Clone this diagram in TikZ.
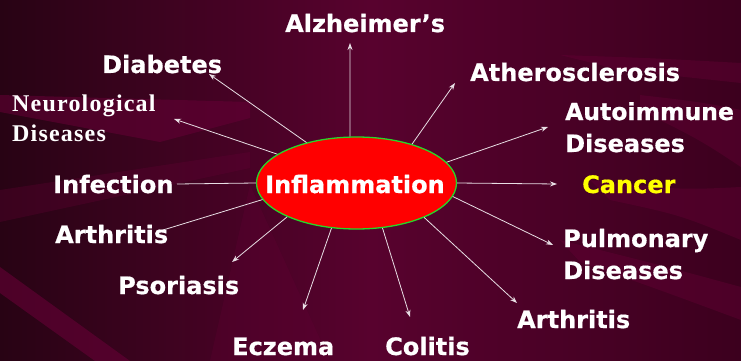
\documentclass[tikz,border=0pt]{standalone}
\usepackage{fontspec}
\setmainfont{DejaVu Sans}[BoldFeatures={FakeBold=0.6}]
\newfontfamily\neurofont[LetterSpace=5]{Liberation Serif}
\usetikzlibrary{shapes.geometric,arrows.meta}
\definecolor{bgL}{RGB}{40,3,20}
\definecolor{bgM}{RGB}{88,2,46}
\definecolor{bgR}{RGB}{60,0,30}
\definecolor{band}{RGB}{102,0,54}
\definecolor{linec}{RGB}{232,222,228}
\definecolor{ellgreen}{RGB}{40,215,40}
\definecolor{cancery}{RGB}{255,255,0}
\begin{document}
\begin{tikzpicture}[x=1pt,y=-1pt,
  lbl/.style={text=white,font=\fontsize{24}{28}\selectfont\bfseries,inner sep=0pt,anchor=base west},
  nlbl/.style={text=white,font=\fontsize{24}{28}\selectfont\neurofont\bfseries,inner sep=0pt,anchor=base west},
  arr/.style={draw=linec,line width=0.8pt,-{Stealth[length=7pt,width=5pt]}},
  ln/.style={draw=linec,line width=0.8pt}]
\useasboundingbox (0,0) rectangle (741,361);
% background
\shade[left color=bgL,right color=bgR,middle color=bgM] (0,0) rectangle (741,361);
\fill[band,opacity=0.55] (0,95) -- (250,102) -- (250,118) -- (160,142) -- (0,112) -- cycle;
\fill[band,opacity=0.3] (0,190) -- (250,152) -- (250,168) -- (0,222) -- cycle;
\fill[band,opacity=0.6] (0,267) -- (130,361) -- (95,361) -- (0,293) -- cycle;
\fill[band,opacity=0.25] (210,361) -- (250,185) -- (330,361) -- cycle;
\fill[band,opacity=0.4] (560,55) .. controls (650,58) .. (741,63) -- (741,83) .. controls (680,76) .. (620,70) -- cycle;
\fill[band,opacity=0.4] (640,95) .. controls (700,102) .. (741,110) -- (741,167) .. controls (700,140) .. (640,110) -- cycle;
\fill[band,opacity=0.4] (590,180) .. controls (680,190) .. (741,187) -- (741,240) .. controls (680,215) .. (610,200) -- cycle;
\fill[band,opacity=0.4] (560,240) .. controls (660,265) .. (741,287) -- (741,320) .. controls (660,290) .. (580,262) -- cycle;
% central node
\node[ellipse,draw=ellgreen,fill=red,line width=1.3pt,minimum width=200pt,minimum height=92pt,inner sep=0pt] (infl) at (356.5,183) {};
% tips
\coordinate (tAlz) at (350,43);
\coordinate (tDia) at (209,74);
\coordinate (tNeu) at (174,119);
\coordinate (tAth) at (455,83);
\coordinate (tAut) at (548,127);
\coordinate (tCan) at (557,184);
\coordinate (tPul) at (553,245);
\coordinate (tArR) at (517,303);
\coordinate (tCol) at (410,317);
\coordinate (tEcz) at (303,310);
\coordinate (tPso) at (232,262);
\coordinate (tArL) at (163,230);
\coordinate (tInf) at (177,184);
% connectors
\draw[arr] (infl.98) -- (tAlz);
\draw[arr] (infl.141.5) -- (tDia);
\draw[arr] (infl.160) -- (tNeu);
\draw[arr] (infl.35) -- (tAth);
\draw[arr] (infl.13) -- (tAut);
\draw[arr] (infl.0) -- (tCan);
\draw[arr] (infl.-8) -- (tPul);
\draw[arr] (infl.-27) -- (tArR);
\draw[arr] (infl.-60.6) -- (tCol);
\draw[arr] (infl.-119.4) -- (tEcz);
\draw[arr] (infl.-154) -- (tPso);
\draw[ln] (infl.-170.4) -- (tArL);
\draw[ln] (infl.180) -- (tInf);
% labels
\node[lbl,anchor=base] (inflT) at (355,193) {Inflammation};
\node[lbl] (alz) at (285,32) {Alzheimer’s};
\node[lbl] (dia) at (102,73) {Diabetes};
\node[nlbl] (neuA) at (12,111) {Neurological};
\node[nlbl] (neuB) at (12,141) {Diseases};
\node[lbl] (inf) at (53,193) {Infection};
\node[lbl] (arL) at (55,243) {Arthritis};
\node[lbl] (pso) at (118,294) {Psoriasis};
\node[lbl] (ecz) at (232,355) {Eczema};
\node[lbl] (col) at (385,355) {Colitis};
\node[lbl] (arR) at (517,328) {Arthritis};
\node[lbl] (pulA) at (563,247) {Pulmonary};
\node[lbl] (pulB) at (563,279) {Diseases};
\node[lbl,text=cancery] (can) at (582,193) {Cancer};
\node[lbl,font=\fontsize{23.5}{28}\selectfont\bfseries] (autA) at (565,120) {Autoimmune};
\node[lbl] (autB) at (565,152) {Diseases};
\node[lbl] (ath) at (470,81) {Atherosclerosis};
\end{tikzpicture}
\end{document}
